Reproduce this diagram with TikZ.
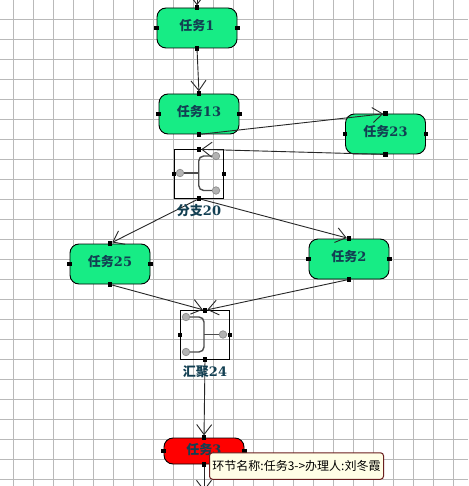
\documentclass[tikz,border=0pt]{standalone}
\usepackage{fontspec}
\setmainfont{DejaVu Serif}
\newfontfamily\cjk{Noto Sans CJK SC}
\usetikzlibrary{arrows.meta}
\definecolor{taskgreen}{HTML}{17EC85}
\definecolor{labelink}{HTML}{123F52}
\definecolor{gridgrey}{HTML}{B9B9B9}
\definecolor{tipfill}{HTML}{FFFEE6}
\definecolor{tipedge}{HTML}{6A1F1F}
\tikzset{
  x=1pt,y=-1pt,
  taskbox/.style={draw=black,line width=0.9pt,rounded corners=9pt,minimum width=80pt,minimum height=40pt,inner sep=0pt,fill=taskgreen},
  gatebox/.style={draw=black,line width=0.9pt,minimum width=49pt,minimum height=48.5pt,inner sep=0pt},
  hdl/.style={fill=black,draw=none,minimum size=4.5pt,inner sep=0pt,outer sep=0pt},
  conn/.style={draw=black!85,line width=0.9pt,-{Straight Barb[length=10pt,width=15pt,line width=0.9pt]}},
  lbl/.style={font=\fontsize{13}{15}\selectfont\bfseries,text=labelink,inner sep=0pt},
  pipe/.style={draw=black!70,line width=1.4pt,rounded corners=5pt},
  port/.style={circle,draw=black!45,fill=black!30,line width=0.7pt,minimum size=7.5pt,inner sep=0pt},
  tipbox/.style={draw=tipedge,line width=1pt,fill=tipfill,rounded corners=3pt,minimum width=174pt,minimum height=26.5pt,inner sep=0pt,font=\fontsize{12}{14}\selectfont}
}
\newcommand{\zh}[1]{{\cjk\bfseries #1}}
\newcommand{\handles}[1]{%
  \node[hdl] (#1N) at (#1.north) {};
  \node[hdl] (#1S) at (#1.south) {};
  \node[hdl] (#1W) at (#1.west) {};
  \node[hdl] (#1E) at (#1.east) {};}
\begin{document}
\begin{tikzpicture}
\useasboundingbox (0,0) rectangle (468,486);
\clip (0,0) rectangle (468,486);
\fill[white] (0,0) rectangle (468,486);
\foreach \gx in {13.5,33.5,...,460} \draw[gridgrey,line width=0.9pt] (\gx,0) -- (\gx,486);
\foreach \gy in {19,39,...,480} \draw[gridgrey,line width=0.9pt] (0,\gy) -- (468,\gy);

\coordinate (inTop) at (197,-12);
\coordinate (outBottom) at (204,491);

\node[taskbox] (t1) at (197,28) {};
\node[taskbox] (t13) at (199,114) {};
\node[taskbox] (t23) at (385.5,134) {};
\node[taskbox] (t25) at (110,264) {};
\node[taskbox] (t2) at (349,259) {};
\node[taskbox,fill=red,minimum height=26pt] (t3) at (204,451) {};
\node[gatebox] (g20) at (199,174) {};
\node[gatebox] (g24) at (205,335) {};

\foreach \nm in {t1,t13,t23,t25,t2,t3,g20,g24} {\handles{\nm}}

\draw[conn] (inTop) -- (t1N);
\draw[conn] (t1S) -- (t13N);
\draw[conn] (t13S) -- (t23N);
\draw[conn] (t23S) -- (g20N);
\draw[conn] (g20S) -- (t25N);
\draw[conn] (g20S) -- (t2N);
\draw[conn] (t25S) -- (g24N);
\draw[conn] (t2S) -- (g24N);
\draw[conn] (g24S) -- (t3N);
\draw[conn] (t3S) -- (outBottom);

\node[port] (p1) at (180,173) {};
\node[port] (p2) at (216,156) {};
\node[port] (p3) at (216,190.5) {};
\draw[pipe] (p2) -- (198.7,156) -- (198.7,190.5) -- (p3);
\draw[pipe] (p1) -- (198.7,173);

\node[port] (q1) at (186,317) {};
\node[port] (q2) at (186,352) {};
\node[port] (q3) at (223,334.5) {};
\draw[pipe] (q1) -- (204,317) -- (204,352) -- (q2);
\draw[pipe] (q3) -- (204,334.5);

\node[lbl] (l1) at (197,26) {\zh{任务}1};
\node[lbl] (l13) at (199,112) {\zh{任务}13};
\node[lbl] (l23) at (385.5,132) {\zh{任务}23};
\node[lbl] (l25) at (110,262) {\zh{任务}25};
\node[lbl] (l2) at (349,257) {\zh{任务}2};
\node[lbl] (l3) at (204,449.5) {\zh{任务}3};
\node[lbl] (l20) at (199,211) {\zh{分支}20};
\node[lbl] (l24) at (205,372) {\zh{汇聚}24};

\node[tipbox] (tip) at (296.5,466) {\cjk 环节名称:任务3->办理人:刘冬霞};
\end{tikzpicture}
\end{document}
